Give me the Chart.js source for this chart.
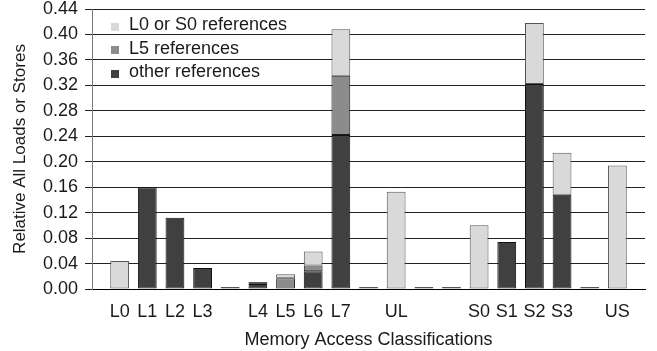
<!DOCTYPE html>
<html>
<head>
<meta charset="utf-8">
<script src="https://cdn.jsdelivr.net/npm/chart.js@4/dist/chart.umd.min.js"></script>
<style>
  html, body { margin: 0; padding: 0; background: #fff; }
  canvas { display: block; }
</style>
</head>
<body>
<canvas id="chart" width="657" height="351"></canvas>
<script>
// Memory access classes; empty labels leave spacing between the groups.
const categories = ['', 'L0', 'L1', 'L2', 'L3', '', 'L4', 'L5', 'L6', 'L7', '', 'UL', '', '', 'S0', 'S1', 'S2', 'S3', '', 'US', ''];

// Fractions of all loads (L*) or all stores (S*), stacked per class.
const otherRefs = [null, null, 0.160, 0.112, 0.033, null, 0.008, null, 0.028, 0.242, null, null, null, null, null, 0.074, 0.322, 0.148, null, null, null];
const l5Refs    = [null, null, null, null, null, null, null, 0.017, 0.009, 0.093, null, null, null, null, null, null, null, null, null, null, null];
const l0s0Refs  = [null, 0.044, null, null, null, 0, 0.002, 0.006, 0.022, 0.073, 0, 0.153, 0, 0, 0.100, null, 0.096, 0.066, 0, 0.194, null];

// Value axis range and tick spacing.
const yMin = 0;
const yMax = 0.44;
const yStep = 0.04;

const FONT = "'Liberation Sans', Arial, Helvetica, sans-serif";
const TEXT = '#1a1a1a';

// Legend drawn inside the plot area, top-left, lightest series first.
const insideLegend = {
  id: 'insideLegend',
  afterDraw(chart) {
    const ctx = chart.ctx;
    const area = chart.chartArea;
    const items = chart.data.datasets.slice().reverse();
    ctx.save();
    ctx.font = '18px ' + FONT;
    ctx.textBaseline = 'middle';
    ctx.textAlign = 'left';
    items.forEach((ds, i) => {
      const cy = area.top + 16.5 + i * 23.5;
      ctx.fillStyle = ds.backgroundColor;
      ctx.fillRect(area.left + 19, Math.round(cy - 3), 8, 8);
      ctx.fillStyle = TEXT;
      ctx.fillText(ds.label, area.left + 37, cy);
    });
    ctx.restore();
  }
};

new Chart(document.getElementById('chart'), {
  type: 'bar',
  data: {
    labels: categories,
    datasets: [
      { label: 'other references', data: otherRefs, backgroundColor: '#404040', borderColor: '#111111' },
      { label: 'L5 references', data: l5Refs, backgroundColor: '#8c8c8c', borderColor: '#1a1a1a' },
      { label: 'L0 or S0 references', data: l0s0Refs, backgroundColor: '#d9d9d9', borderColor: '#555555', minBarLength: 2 }
    ]
  },
  options: {
    responsive: false,
    devicePixelRatio: 1,
    animation: false,
    layout: { padding: { top: 9, right: 8, bottom: 0, left: 0 } },
    datasets: {
      bar: {
        borderWidth: 1,
        borderSkipped: false,
        categoryPercentage: 1,
        barPercentage: 0.68
      }
    },
    plugins: {
      legend: { display: false },
      tooltip: { enabled: false }
    },
    scales: {
      x: {
        stacked: true,
        offset: false,
        grid: { display: true, drawOnChartArea: false, drawTicks: false, color: '#000' },
        border: { display: true, color: '#000', width: 1 },
        ticks: {
          autoSkip: false,
          maxRotation: 0,
          padding: 12,
          color: TEXT,
          font: { family: FONT, size: 18 }
        },
        title: {
          display: true,
          text: 'Memory Access Classifications',
          color: TEXT,
          font: { family: FONT, size: 18 },
          padding: { top: 0, bottom: 0 }
        },
        afterFit(scale) { scale.height = 62; }
      },
      y: {
        stacked: true,
        min: yMin,
        max: yMax,
        grid: { color: '#222222', tickLength: 7, lineWidth: 1 },
        border: { display: true, color: '#7a7a7a', width: 1 },
        ticks: {
          stepSize: yStep,
          padding: 7,
          color: TEXT,
          font: { family: FONT, size: 18 },
          callback: (v) => Number(v).toFixed(2)
        },
        title: {
          display: true,
          text: 'Relative All Loads or Stores',
          color: TEXT,
          font: { family: FONT, size: 17 },
          padding: { top: 10, bottom: 0 }
        },
        afterFit(scale) {
          scale.width = 92;
          scale.paddingTop = 0;
          scale.paddingBottom = 0;
        }
      }
    }
  },
  plugins: [insideLegend]
});
</script>
</body>
</html>
